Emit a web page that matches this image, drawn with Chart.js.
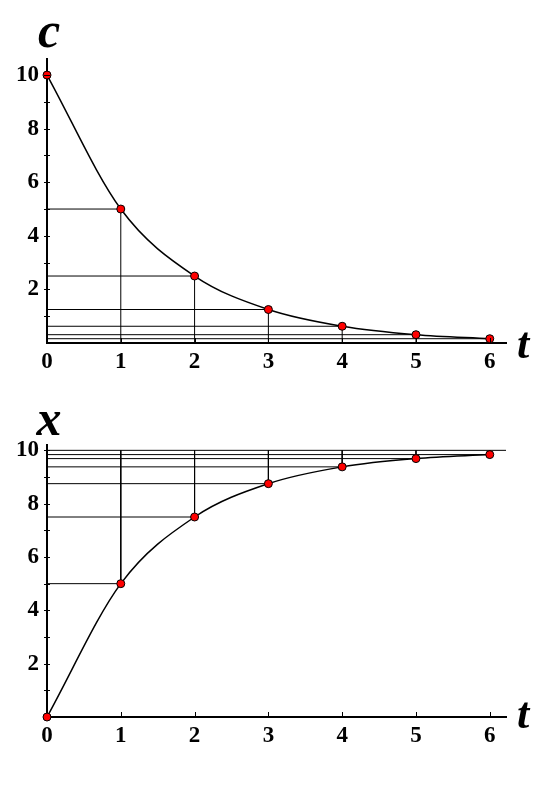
<!DOCTYPE html>
<html>
<head>
<meta charset="utf-8">
<title>c and x against t</title>
<script src="https://cdn.jsdelivr.net/npm/chart.js@4.4.1/dist/chart.umd.min.js"></script>
<style>
  body { margin: 0; background: #fff; }
  canvas { display: block; }
</style>
</head>
<body>
<canvas id="topChart" width="559" height="396"></canvas>
<canvas id="bottomChart" width="559" height="397"></canvas>
<script>
// values
var tValues = [0, 1, 2, 3, 4, 5, 6];
var cValues = [10, 5, 2.5, 1.25, 0.625, 0.31, 0.16];
var xValues = [0, 5, 7.5, 8.75, 9.38, 9.69, 9.84];

var tTicks = [0, 1, 2, 3, 4, 5, 6];
var yTicks = [1, 2, 3, 4, 5, 6, 7, 8, 9, 10];
var yLabels = [2, 4, 6, 8, 10];

var tEnd = 6.22;   // t axis runs a bit past the last point
var limit = 10;    // x tends to this value

var serif = '"Liberation Serif", "Times New Roman", serif';

// names of the axes and the small tick marks
var axisBits = {
  id: 'axisBits',
  afterDraw: function(chart, args, o) {
    var ctx = chart.ctx, xs = chart.scales.x, ys = chart.scales.y;
    var x0 = xs.getPixelForValue(0), y0 = ys.getPixelForValue(0);
    ctx.save();
    ctx.strokeStyle = '#000';
    ctx.lineWidth = 1;
    ctx.beginPath();
    yTicks.forEach(function(v) {
      var py = Math.round(ys.getPixelForValue(v)) + 0.5;
      ctx.moveTo(x0 - 3, py);
      ctx.lineTo(x0 + 3, py);
    });
    tTicks.forEach(function(v) {
      if (v === 0) return;
      var px = Math.round(xs.getPixelForValue(v)) + 0.5;
      ctx.moveTo(px, y0);
      ctx.lineTo(px, y0 - 5);
    });
    ctx.stroke();

    ctx.fillStyle = '#000';
    ctx.textBaseline = 'alphabetic';
    ctx.textAlign = 'center';
    ctx.font = 'italic bold 50px ' + serif;
    ctx.fillText(o.name, x0 + 2, ys.top - o.nameGap);
    ctx.textAlign = 'left';
    ctx.font = 'italic bold 44px ' + serif;
    ctx.fillText('t', xs.right + 11, y0 + o.tDrop);
    ctx.restore();
  }
};

function makeChart(id, values, yMax, guideBase, withLimit, area, bits) {
  var datasets = [{
    data: tValues.map(function(t, i) { return {x: t, y: values[i]}; }),
    borderColor: '#000',
    borderWidth: 1.5,
    cubicInterpolationMode: 'monotone',
    pointRadius: 4,
    pointBackgroundColor: '#ff0000',
    pointBorderColor: '#000',
    pointBorderWidth: 1,
    clip: false
  }];
  var guide = function(pts) {
    datasets.push({
      data: pts,
      borderColor: '#000',
      borderWidth: 1,
      pointRadius: 0,
      clip: false
    });
  };
  tValues.forEach(function(t, i) {
    if (t === 0) return;
    guide([{x: 0, y: values[i]}, {x: t, y: values[i]}]);
    guide([{x: t, y: guideBase}, {x: t, y: values[i]}]);
  });
  if (withLimit) guide([{x: 0, y: limit}, {x: tEnd, y: limit}]);

  return new Chart(document.getElementById(id), {
    type: 'line',
    data: {datasets: datasets},
    options: {
      responsive: false,
      animation: false,
      events: [],
      layout: {padding: {top: area.top, right: 559 - area.right, left: 0, bottom: 0}},
      plugins: {legend: {display: false}, tooltip: {enabled: false}, axisBits: bits},
      scales: {
        x: {
          type: 'linear',
          min: 0,
          max: tEnd,
          afterBuildTicks: function(s) { s.ticks = tTicks.map(function(v) { return {value: v}; }); },
          afterFit: function(s) { s.height = area.canvasH - area.bottom; },
          grid: {display: false, drawTicks: false},
          border: {display: true, color: '#000', width: 2},
          ticks: {
            color: '#000',
            padding: 5,
            maxRotation: 0,
            autoSkip: false,
            font: {family: serif, weight: 'bold', size: 23},
            callback: function(v) { return String(v); }
          }
        },
        y: {
          type: 'linear',
          min: 0,
          max: yMax,
          afterBuildTicks: function(s) { s.ticks = yTicks.map(function(v) { return {value: v}; }); },
          afterFit: function(s) { s.width = area.left; },
          grid: {display: false, drawTicks: false},
          border: {display: true, color: '#000', width: 2},
          ticks: {
            color: '#000',
            padding: 8,
            autoSkip: false,
            font: {family: serif, weight: 'bold', size: 23},
            callback: function(v) { return yLabels.indexOf(v) >= 0 ? String(v) : ''; }
          }
        }
      }
    },
    plugins: [axisBits]
  });
}

makeChart('topChart', cValues, 10.6, 0, false,
  {top: 59, bottom: 343, left: 47, right: 506, canvasH: 396},
  {name: 'c', nameGap: 12, tDrop: 15});

makeChart('bottomChart', xValues, 10.2, limit, true,
  {top: 49, bottom: 321, left: 47, right: 506, canvasH: 397},
  {name: 'x', nameGap: 10, tDrop: 11});
</script>
</body>
</html>
